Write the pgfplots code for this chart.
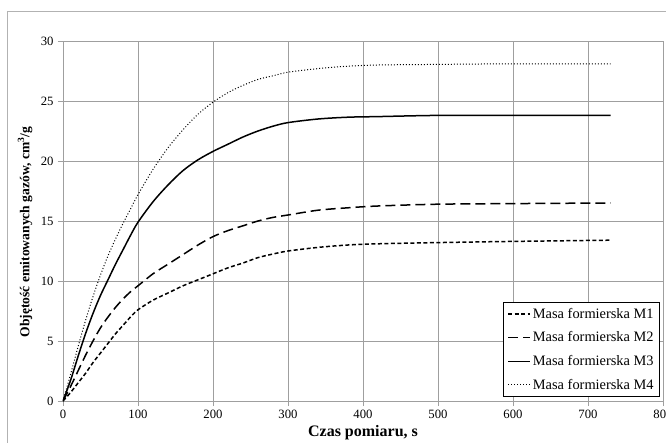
\documentclass[border=0pt]{standalone}
\usepackage{pgfplots}
\pgfplotsset{compat=1.18}
\usepackage{fontspec}
\setmainfont{Liberation Serif}
\begin{document}
\begin{tikzpicture}[x=1pt,y=1pt]
\path[use as bounding box] (-63,-41) rectangle (603,401);
\draw[gray!60, line width=0.8pt] (-56,-60) -- (-56,390) -- (640,390);
\begin{axis}[
  at={(0,0)}, anchor=south west,
  scale only axis, width=600pt, height=360pt,
  xmin=0, xmax=800, ymin=0, ymax=30,
  xtick={0,100,...,800}, ytick={0,5,...,30},
  grid=major,
  grid style={draw=gray!75, line width=0.8pt},
  axis line style={draw=gray!75, line width=0.8pt},
  tick style={draw=gray!75, line width=0.8pt},
  tick align=outside, major tick length=5pt,
  xtick pos=bottom, ytick pos=left,
  /pgf/number format/assume math mode=true,
  /pgf/number format/1000 sep={},
  tick label style={font=\fontsize{12.7}{14}\selectfont},
  yticklabel style={xshift=-1pt},
  xticklabel style={yshift=-1pt},
  xlabel={\bfseries Czas pomiaru, s},
  ylabel={\bfseries Objętość emitowanych gazów, cm\textsuperscript{3}/g},
  xlabel style={font=\fontsize{16}{18}\selectfont, at={(axis description cs:0.5,-0.0889)}, anchor=center},
  ylabel style={font=\fontsize{13.6}{16}\selectfont, at={(axis description cs:-0.0633,0.4694)}, anchor=center},
  legend style={at={(0.995,0.011)}, anchor=south east, draw=black, line width=0.6pt,
    font=\fontsize{14.4}{16}\selectfont, row sep=8pt, inner xsep=4pt, inner ysep=4pt,
    cells={anchor=west}},
  legend image code/.code={\draw[#1] (0pt,0pt) -- (22pt,0pt);},
]
\addplot[black, line width=1.5pt, dash pattern=on 4pt off 2.5pt, smooth, tension=0.5] coordinates {
(0,0) (10,0.7) (20,1.5) (30,2.3) (40,3.2) (50,4.0) (60,4.8) (70,5.6) (80,6.3) (90,7.0) (100,7.6)
(120,8.4) (140,9.0) (160,9.6) (180,10.1) (200,10.6) (220,11.1) (240,11.5) (260,11.95) (280,12.25)
(300,12.5) (340,12.8) (380,13.0) (420,13.1) (500,13.2) (600,13.3) (730,13.4)};
\addlegendentry{Masa formierska M1}
\addplot[black, line width=1.5pt, dash pattern=on 10pt off 5pt, smooth, tension=0.5] coordinates {
(0,0) (10,1.2) (20,2.5) (30,3.8) (40,5.0) (50,6.1) (60,7.0) (70,7.8) (80,8.5) (90,9.1) (100,9.6)
(120,10.6) (140,11.4) (160,12.2) (180,13.0) (200,13.7) (220,14.2) (240,14.6) (260,15.0) (280,15.3)
(300,15.5) (340,15.9) (380,16.1) (420,16.25) (500,16.4) (600,16.45) (730,16.5)};
\addlegendentry{Masa formierska M2}
\addplot[black, line width=1.5pt, smooth, tension=0.5] coordinates {
(0,0) (10,1.7) (20,3.7) (30,5.6) (40,7.3) (50,8.8) (60,10.1) (70,11.4) (80,12.6) (90,13.8) (100,14.9)
(120,16.6) (140,18.0) (160,19.2) (180,20.1) (200,20.8) (220,21.4) (240,22.0) (260,22.5) (280,22.9)
(300,23.2) (340,23.5) (380,23.65) (420,23.7) (500,23.8) (600,23.8) (730,23.8)};
\addlegendentry{Masa formierska M3}
\addplot[black, line width=1pt, dash pattern=on 1pt off 2pt, smooth, tension=0.5] coordinates {
(0,0) (10,2.2) (20,4.5) (30,6.7) (40,8.7) (50,10.5) (60,12.1) (70,13.5) (80,14.8) (90,16.0) (100,17.2)
(120,19.3) (140,21.1) (160,22.6) (180,23.9) (200,24.9) (220,25.7) (240,26.3) (260,26.8) (280,27.1)
(300,27.4) (340,27.7) (380,27.9) (420,28.0) (500,28.05) (600,28.1) (730,28.1)};
\addlegendentry{Masa formierska M4}
\end{axis}
\end{tikzpicture}
\end{document}
